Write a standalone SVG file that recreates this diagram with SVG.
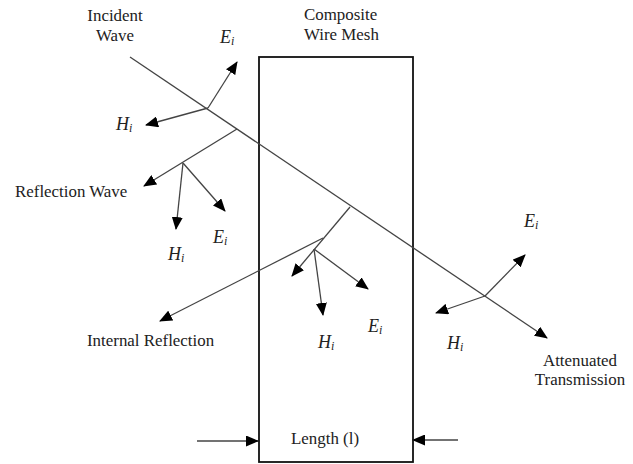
<svg xmlns="http://www.w3.org/2000/svg" width="633" height="464" viewBox="0 0 633 464">
<defs>
<marker id="ah" markerWidth="13" markerHeight="11" refX="12" refY="5.5" orient="auto" markerUnits="userSpaceOnUse">
<path d="M0,0 L13,5.5 L0,11 z" fill="#000"/>
</marker>
<style>
.ar{stroke:#444;stroke-width:1.3;fill:none;marker-end:url(#ah)}
.t{font-size:16.9px;fill:#222}
.m{font-style:italic;font-size:18px;fill:#222}
.s{font-size:12px}
</style>
</defs>
<rect width="633" height="464" fill="#fff"/>
<g font-family="'Liberation Serif', 'DejaVu Serif', serif">
<g id="mesh">
<rect x="259" y="57" width="154" height="405" fill="none" stroke="#111" stroke-width="1.8"/>
<text class="t" x="304" y="20">Composite</text>
<text class="t" x="304" y="40">Wire Mesh</text>
<text class="t" x="291" y="444">Length (l)</text>
</g>
<g id="labels">
<text class="t" x="115" y="21" text-anchor="middle">Incident</text>
<text class="t" x="115" y="41" text-anchor="middle">Wave</text>
<text class="t" x="15" y="197">Reflection Wave</text>
<text class="t" x="87" y="346">Internal Reflection</text>
<text class="t" x="580" y="366" text-anchor="middle">Attenuated</text>
<text class="t" x="580" y="385" text-anchor="middle">Transmission</text>
<text class="m" x="220" y="43">E<tspan class="s" dy="2">i</tspan></text>
<text class="m" x="116" y="130">H<tspan class="s" dy="2">i</tspan></text>
<text class="m" x="213" y="243">E<tspan class="s" dy="2">i</tspan></text>
<text class="m" x="168" y="260">H<tspan class="s" dy="2">i</tspan></text>
<text class="m" x="368" y="332">E<tspan class="s" dy="2">i</tspan></text>
<text class="m" x="318" y="348">H<tspan class="s" dy="2">i</tspan></text>
<text class="m" x="524" y="227">E<tspan class="s" dy="2">i</tspan></text>
<text class="m" x="447" y="349">H<tspan class="s" dy="2">i</tspan></text>
</g>
</g>
<g id="connectors">
<line class="ar" x1="130" y1="57" x2="547" y2="338"/>
<line class="ar" x1="208" y1="108" x2="237" y2="62"/>
<line class="ar" x1="208" y1="108" x2="146" y2="125"/>
<line class="ar" x1="237" y1="129" x2="144" y2="186"/>
<line class="ar" x1="183" y1="163" x2="176" y2="229"/>
<line class="ar" x1="183" y1="163" x2="225" y2="211"/>
<line class="ar" x1="350" y1="207" x2="292" y2="276"/>
<line class="ar" x1="323" y1="238" x2="160" y2="321"/>
<line class="ar" x1="314" y1="249" x2="323" y2="315"/>
<line class="ar" x1="314" y1="249" x2="368" y2="289"/>
<line class="ar" x1="485" y1="296" x2="525" y2="255"/>
<line class="ar" x1="485" y1="296" x2="436" y2="313"/>
<line class="ar" x1="197" y1="441" x2="258" y2="441"/>
<line class="ar" x1="458" y1="440" x2="413" y2="440"/>
</g>
</svg>
